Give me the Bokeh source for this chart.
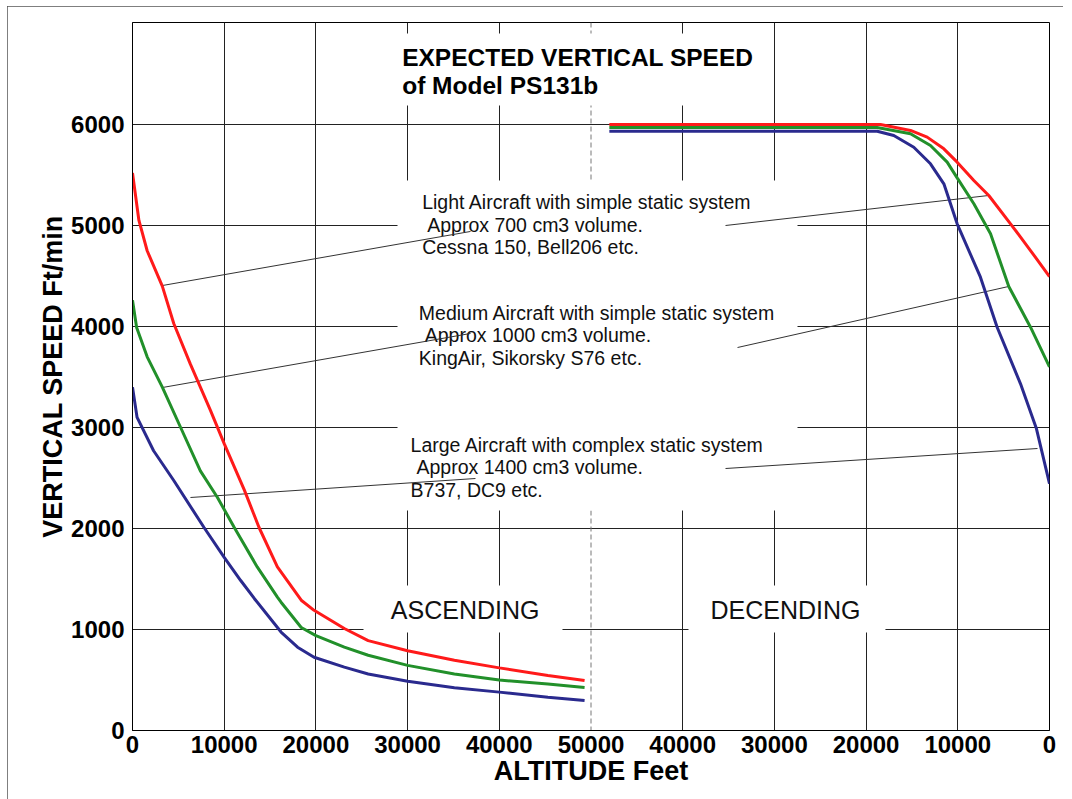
from bokeh.plotting import figure
from bokeh.models import FixedTicker, Span
from bokeh.core.properties import value
from bokeh.embed import file_html
from bokeh.resources import INLINE

# ---------------- data ----------------
# Ascending (altitude in feet -> vertical speed ft/min)
asc_alt_light = [0, 700, 1600, 3250, 4500, 6300, 8500, 10000, 12200, 13800, 15800, 18400, 19800,
                 23100, 25700, 30000, 35100, 40000, 45300, 49300]
asc_vs_light = [5520, 5050, 4750, 4400, 4030, 3630, 3170, 2840, 2380, 2010, 1620, 1290, 1190,
                1010, 890, 790, 695, 620, 545, 495]

asc_alt_medium = [0, 450, 1600, 3250, 5250, 7400, 9250, 11100, 13600, 15800, 16200, 18400, 20000,
                  23100, 25700, 30000, 35100, 40000, 45300, 49300]
asc_vs_medium = [4260, 3990, 3700, 3400, 3000, 2570, 2310, 2010, 1620, 1320, 1270, 1020, 940,
                 825, 745, 645, 560, 500, 460, 425]

asc_alt_large = [0, 500, 2300, 4500, 7800, 10000, 11800, 13300, 16200, 18000, 19800,
                 23100, 25700, 30000, 35100, 40000, 45300, 49300]
asc_vs_large = [3400, 3100, 2770, 2475, 2010, 1715, 1485, 1305, 975, 825, 725,
                627, 560, 488, 423, 380, 330, 297]

# Descending (altitude in feet -> vertical speed ft/min)
desc_alt_light = [48000, 18430, 15160, 13340, 11520, 10070, 8250, 6620, 4250, 2070, 0]
desc_vs_light = [6000, 6000, 5941, 5875, 5759, 5627, 5446, 5297, 5017, 4752, 4495]

desc_alt_medium = [48000, 18800, 15160, 12980, 11160, 10070, 8250, 6430, 4440, 2070, 0]
desc_vs_medium = [5970, 5970, 5908, 5792, 5627, 5472, 5215, 4918, 4396, 3993, 3600]

desc_alt_large = [48000, 18790, 16980, 14800, 12980, 11520, 10070, 7530, 5710, 3160, 1420, 0]
desc_vs_large = [5934, 5934, 5891, 5775, 5611, 5413, 5017, 4488, 3993, 3432, 2987, 2443]

tick_labels = ["0", "10000", "20000", "30000", "40000", "50000",
               "40000", "30000", "20000", "10000", "0"]
y_ticks = [0, 1000, 2000, 3000, 4000, 5000, 6000]

SPAN = 100000  # ascending 0..50000, then descending 50000..0


def desc_x(alts):
    return [SPAN - a for a in alts]


# ---------------- figure ----------------
p = figure(width=1056, height=793, x_range=(0, SPAN), y_range=(0, 7010),
           output_backend="svg", toolbar_location=None,
           min_border_left=125, min_border_right=14, min_border_top=16, min_border_bottom=69)
p.styles = {"margin-left": "7px", "margin-top": "6px",
            "outline": "1px solid #555555", "outline-offset": "-1px"}
p.background_fill_color = "white"
p.border_fill_color = "white"
p.outline_line_color = "black"
p.outline_line_width = 1

x_ticks = [i * 10000 for i in range(len(tick_labels))]
p.xaxis.ticker = FixedTicker(ticks=x_ticks)
p.xaxis.major_label_overrides = {t: l for t, l in zip(x_ticks, tick_labels)}
p.yaxis.ticker = FixedTicker(ticks=y_ticks)

for ax in (p.xaxis[0], p.yaxis[0]):
    ax.major_tick_line_color = None
    ax.minor_tick_line_color = None
    ax.major_tick_out = 0
    ax.major_tick_in = 0
    ax.minor_tick_out = 0
    ax.minor_tick_in = 0
    ax.axis_line_color = "black"
    ax.major_label_text_font = "Liberation Sans"
    ax.major_label_text_font_style = "bold"
    ax.major_label_text_font_size = "24px"
    ax.major_label_text_color = "black"
    ax.axis_label_text_font = "Liberation Sans"
    ax.axis_label_text_font_style = "bold"
    ax.axis_label_text_font_size = "27px"
    ax.axis_label_text_color = "black"

p.xaxis.axis_label = "ALTITUDE Feet"
p.yaxis.axis_label = "VERTICAL SPEED Ft/min"
p.xaxis.major_label_standoff = 5
p.xaxis.axis_label_standoff = 0
p.yaxis.major_label_standoff = 8
p.yaxis.axis_label_standoff = 0

p.xgrid.ticker = FixedTicker(ticks=[t for t in x_ticks if t not in (0, 50000, SPAN)])
p.ygrid.ticker = FixedTicker(ticks=[t for t in y_ticks if t != 0])
for g in (p.xgrid[0], p.ygrid[0]):
    g.grid_line_color = "#222222"
    g.grid_line_width = 1
    g.grid_line_alpha = 1.0

p.add_layout(Span(location=SPAN / 2, dimension="height", line_color="#777777",
                  line_dash="5 3", line_width=1, level="underlay"))

# white panels behind the texts (hide grid)
mask_left = [28680, 28900, 25190, 60630]
mask_right = [68480, 72520, 46890, 82110]
mask_top = [6901, 5446, 1436, 1436]
mask_bottom = [6188, 2178, 970, 970]
p.quad(left=mask_left, right=mask_right, top=mask_top, bottom=mask_bottom,
       fill_color="white", line_color=None)

# title
p.text(x=[29410, 29410], y=[6667, 6387],
       text=["EXPECTED VERTICAL SPEED", "of Model PS131b"],
       text_font=value("Liberation Sans"), text_font_style="bold",
       text_font_size="24.5px", text_baseline="alphabetic", text_align="left",
       text_color="black")

# aircraft notes
note_x = [31590, 32140, 31590, 31220, 31870, 31220, 30320, 30970, 30320]
note_y = [5237, 5006, 4792, 4131, 3917, 3693, 2827, 2613, 2382]
note_text = ["Light Aircraft with simple static system",
             "Approx 700 cm3 volume.",
             "Cessna 150, Bell206 etc.",
             "Medium Aircraft with simple static system",
             "Approx 1000 cm3 volume.",
             "KingAir, Sikorsky S76 etc.",
             "Large Aircraft with complex static system",
             "Approx 1400 cm3 volume.",
             "B737, DC9 etc."]
p.text(x=note_x, y=note_y, text=note_text,
       text_font=value("Liberation Sans"), text_font_size="19.5px",
       text_baseline="alphabetic", text_align="left", text_color="#111111")

p.text(x=[36280, 71210], y=[1195, 1195], text=["ASCENDING", "DECENDING"],
       text_font=value("Liberation Sans"), text_font_size="25px",
       text_baseline="alphabetic", text_align="center", text_color="#111111")

# leader lines
lead_x0 = [3270, 64670, 3270, 65980, 6320, 64670]
lead_y0 = [4406, 5000, 3396, 3792, 2307, 2594]
lead_x1 = [36860, 93350, 36860, 95530, 37400, 98690]
lead_y1 = [4941, 5297, 3931, 4396, 2495, 2792]
p.segment(x0=lead_x0, y0=lead_y0, x1=lead_x1, y1=lead_y1,
          line_color="#333333", line_width=1)

# curves
RED, GREEN, BLUE = "#ff1a1a", "#22902a", "#2a2a8e"
p.line(asc_alt_light, asc_vs_light, line_color=RED, line_width=3)
p.line(asc_alt_medium, asc_vs_medium, line_color=GREEN, line_width=3)
p.line(asc_alt_large, asc_vs_large, line_color=BLUE, line_width=3)
p.line(desc_x(desc_alt_light), desc_vs_light, line_color=RED, line_width=3)
p.line(desc_x(desc_alt_medium), desc_vs_medium, line_color=GREEN, line_width=3)
p.line(desc_x(desc_alt_large), desc_vs_large, line_color=BLUE, line_width=3)

open("out.html", "w").write(file_html(p, INLINE))
